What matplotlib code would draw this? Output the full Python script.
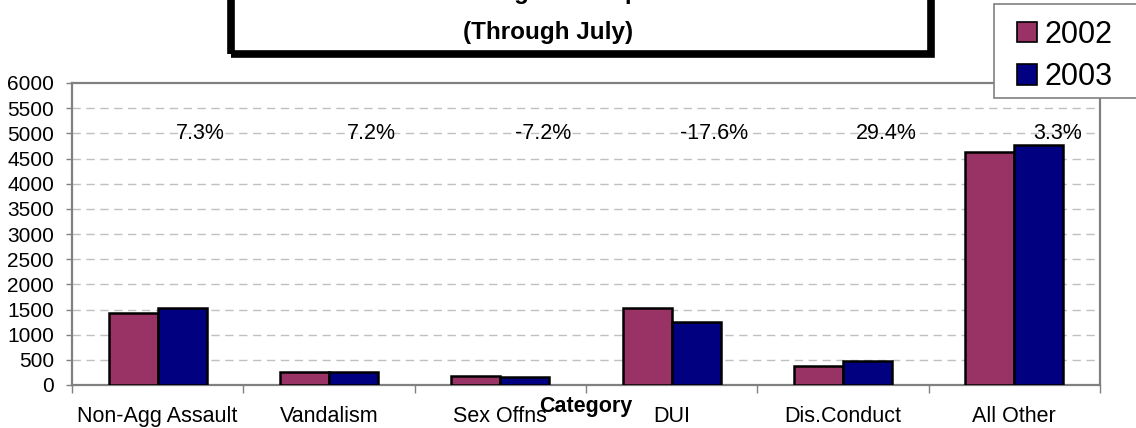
import numpy as np
import matplotlib
matplotlib.use("Agg")
from matplotlib import pyplot as plt
from matplotlib import patches as mpatches

plt.rcParams["font.family"] = ["Liberation Sans", "DejaVu Sans"]

W, H = 1136, 428

categories = ["Non-Agg Assault", "Vandalism", "Sex Offns", "DUI", "Dis.Conduct", "All Other"]
counts_2002 = [1425, 250, 180, 1520, 372, 4625]
counts_2003 = [1529, 268, 167, 1252, 481, 4778]
pct_change = ["7.3%", "7.2%", "-7.2%", "-17.6%", "29.4%", "3.3%"]
series_names = ["2002", "2003"]
y_ticks = list(range(0, 6001, 500))

COLOR_2002 = "#993366"
COLOR_2003 = "#000080"
GRID_GRAY = "#c0c0c0"
AXIS_GRAY = "#808080"
FS = 15.5

fig = plt.figure(figsize=(W / 100, H / 100), dpi=100)
ax = fig.add_axes([72 / W, 1 - 385 / H, (1100 - 72) / W, (385 - 83) / H])

x = np.arange(len(categories))
bar_w = 0.286
ax.bar(x - bar_w / 2, counts_2002, bar_w, color=COLOR_2002, edgecolor="black", linewidth=1.8, zorder=3)
ax.bar(x + bar_w / 2, counts_2003, bar_w, color=COLOR_2003, edgecolor="black", linewidth=1.8, zorder=3)

for i, lab in enumerate(pct_change):
    ax.text(i + 0.25, 5000, lab, ha="center", va="center", fontsize=FS, zorder=4)

ax.set_xlim(-0.5, len(categories) - 0.5)
ax.set_ylim(0, 6000)
ax.set_yticks(y_ticks)
ax.set_yticklabels([str(v) for v in y_ticks], fontsize=15)
ax.set_xticks(x)
ax.set_xticklabels(categories, fontsize=FS)
ax.set_xticks(np.arange(len(categories) + 1) - 0.5, minor=True)
ax.tick_params(axis="x", which="major", length=0, pad=15)
ax.tick_params(axis="x", which="minor", length=6, width=1, color=AXIS_GRAY, direction="out")
ax.tick_params(axis="y", which="major", length=4, width=1, color=AXIS_GRAY, pad=9)

for v in y_ticks[1:-1]:
    ax.axhline(v, color=GRID_GRAY, linewidth=1, linestyle=(0, (6, 4)), zorder=1)

for s in ax.spines.values():
    s.set_color(AXIS_GRAY)
    s.set_linewidth(1.6)

ax.set_xlabel("Category", fontsize=FS, fontweight="bold", labelpad=-22)

# title box, partly above the top edge of the figure
title_box = mpatches.Rectangle((231 / W, 1 - 54 / H), (931 - 231) / W, 80 / H,
                               transform=fig.transFigure, fill=False,
                               edgecolor="black", linewidth=5.5, clip_on=False)
fig.patches.append(title_box)
fig.text(560 / W, 1 + 1 / H, "Selected Offense Categories Reported: 2002 vs 2003",
         ha="center", va="baseline", fontsize=17.5, fontweight="bold")
fig.text(548 / W, 1 - 32 / H, "(Through July)", ha="center", va="center",
         fontsize=17.5, fontweight="bold")

# legend box runs past the right edge like in the original
legend_box = mpatches.Rectangle((994 / W, 1 - 98 / H), 200 / W, 94 / H,
                                transform=fig.transFigure, facecolor="white",
                                edgecolor=AXIS_GRAY, linewidth=1.2, zorder=5)
fig.patches.append(legend_box)
legend_items = [
    mpatches.Patch(facecolor=COLOR_2002, edgecolor="black", linewidth=1.2, label=series_names[0]),
    mpatches.Patch(facecolor=COLOR_2003, edgecolor="black", linewidth=1.2, label=series_names[1]),
]
leg = fig.legend(handles=legend_items, loc="upper left", bbox_to_anchor=(1017 / W, 1 - 20 / H),
                 fontsize=22, frameon=False, handlelength=0.65, handleheight=0.65,
                 handletextpad=0.25, labelspacing=0.4, borderpad=0, borderaxespad=0)
leg.set_zorder(6)

fig.savefig("out.png", dpi=100)
